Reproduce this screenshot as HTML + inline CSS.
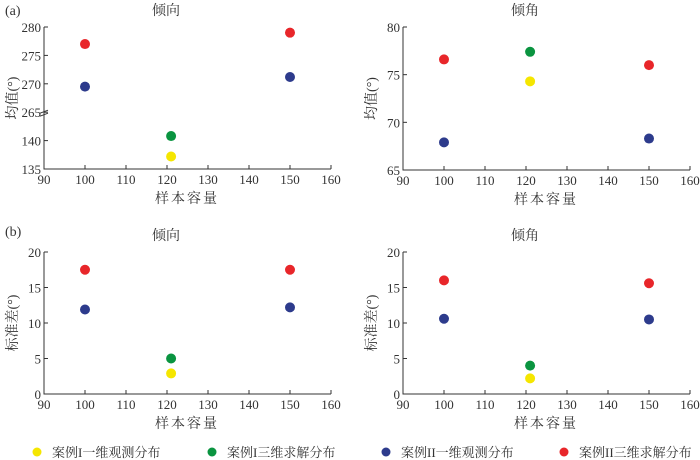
<!DOCTYPE html>
<html><head><meta charset="utf-8"><style>
html,body{margin:0;background:#fff;width:700px;height:460px;overflow:hidden;}
svg{display:block;overflow:hidden;font-family:"Liberation Serif","Noto Serif CJK SC",serif;}
</style></head><body>
<svg id="c" width="700" height="460"></svg>
<script>
const xTicks=[90,100,110,120,130,140,150,160];
const xCats=[100,121,150];
const seriesNames=["案例I一维观测分布","案例I三维求解分布","案例II一维观测分布","案例II三维求解分布"];
const seriesColors=["#f5e600","#0a9440","#2d3b8c","#e8262a"];
const aLeftYellow=[[121,137.2]];
const aLeftGreen=[[121,140.8]];
const aLeftBlue=[[100,269.5],[150,271.2]];
const aLeftRed=[[100,277],[150,279]];
const aLeftTicks=[135,140,265,270,275,280];
const aRightYellow=[[121,74.3]];
const aRightGreen=[[121,77.4]];
const aRightBlue=[[100,67.9],[150,68.3]];
const aRightRed=[[100,76.6],[150,76.0]];
const aRightTicks=[65,70,75,80];
const bLeftYellow=[[121,2.9]];
const bLeftGreen=[[121,5.0]];
const bLeftBlue=[[100,11.9],[150,12.2]];
const bLeftRed=[[100,17.5],[150,17.5]];
const bRightYellow=[[121,2.2]];
const bRightGreen=[[121,4.0]];
const bRightBlue=[[100,10.6],[150,10.5]];
const bRightRed=[[100,16.0],[150,15.6]];
const bTicks=[0,5,10,15,20];

const svg=document.getElementById('c');
const NS='http://www.w3.org/2000/svg';
function mk(tag,attrs,parent){const e=document.createElementNS(NS,tag);for(const k in attrs)e.setAttribute(k,attrs[k]);(parent||svg).appendChild(e);return e;}
function txt(s,x,y,size,anchor,parent,extra){const t=mk('text',Object.assign({x:x,y:y,'font-size':size,'text-anchor':anchor||'middle',fill:'#333'},extra||{}),parent);t.textContent=s;return t;}

function panel(name,x0,yTop,yBot,title,ylabel,ticks,yScale,series,broken){
  const g=mk('g',{});
  
  
  const xs=v=>x0+(v-90)/70*287;
  const ax=mk('path',{d:`M${x0},${yTop}V${yBot}H${x0+287}`,stroke:'#333','stroke-width':1,fill:'none'},g);
  
  
  xTicks.forEach(v=>{
    mk('line',{x1:xs(v),x2:xs(v),y1:yBot,y2:yBot-4,stroke:'#333'},g);
    const t=txt(String(v),xs(v),yBot+15,13,'middle',g);
    
    
  });
  ticks.forEach(v=>{
    const y=yScale(v);
    mk('line',{x1:x0,x2:x0+4,y1:y,y2:y,stroke:'#333'},g);
    const t=txt(String(v),x0-3,y+5,13,'end',g);
    
    
  });
  if(broken){
    const yb=yScale(265);
    mk('path',{d:`M${x0-4},${yb+1}l8,-3M${x0-4},${yb+4}l8,-3`,stroke:'#333',fill:'none'},g);
  }
  const tt=txt(title,x0+122,yTop-12,14,'middle',g);
  
  
  const xl=txt('样本容量',x0+143,yBot+34,14,'middle',g,{'letter-spacing':'2'});
  
  
  const ym=(yTop+yBot)/2;
  const yl=txt(ylabel,x0-32,ym+5,14,'middle',g,{transform:`rotate(-90 ${x0-32} ${ym})`});
  
  
  series.forEach((s,i)=>{s.forEach(p=>{
    const c=mk('circle',{cx:xs(p[0]),cy:yScale(p[1]),r:5,fill:seriesColors[i]},g);
    
    
  });});
}
function lin(lo,hi,yTop,yBot){return v=>yBot-(v-lo)/(hi-lo)*(yBot-yTop);}
const brokenScale=v=>{const yBot=169,step=(169-27)/5;
  if(v<200)return yBot-(v-135)/5*step; return yBot-(2+(v-265)/5)*step;};
txt('(a)',5,15,14,'start');
txt('(b)',5,236,14,'start');
panel('panel-a-dip-direction',44,27,169,'倾向','均值(°)',aLeftTicks,brokenScale,[aLeftYellow,aLeftGreen,aLeftBlue,aLeftRed],true);
panel('panel-a-dip-angle',403,27,170,'倾角','均值(°)',aRightTicks,lin(65,80,27,170),[aRightYellow,aRightGreen,aRightBlue,aRightRed],false);
panel('panel-b-dip-direction',44,252,394,'倾向','标准差(°)',bTicks,lin(0,20,252,394),[bLeftYellow,bLeftGreen,bLeftBlue,bLeftRed],false);
panel('panel-b-dip-angle',403,252,394,'倾角','标准差(°)',bTicks,lin(0,20,252,394),[bRightYellow,bRightGreen,bRightBlue,bRightRed],false);
const lx=[37,212,386,564];
seriesNames.forEach((n,i)=>{
  const g=mk('g',{});
  
  
  mk('circle',{cx:lx[i],cy:452,r:4.5,fill:seriesColors[i]},g);
  txt(n,lx[i]+15,457,13,'start',g);
});
</script>
</body></html>
